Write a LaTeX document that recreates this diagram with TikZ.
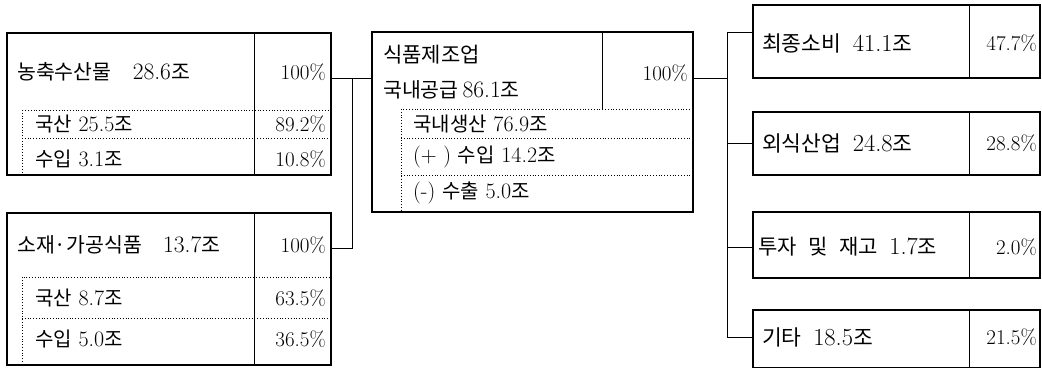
\documentclass[tikz,border=0pt]{standalone}
\usepackage{fontspec}
\newfontfamily\krfont{Noto Sans CJK KR}
\usetikzlibrary{positioning}
\newcommand{\kr}[2][20]{{\krfont\fontsize{#1}{24}\selectfont #2}}

\tikzset{
  frame/.style={draw, line width=2.2pt, inner sep=0pt, outer sep=0pt, anchor=north west},
  cellline/.style={line width=0.9pt},
  subline/.style={line width=0.8pt, dotted},
  link/.style={line width=0.9pt},
  maintext/.style={inner sep=0pt, anchor=west, font=\fontsize{23.5}{26}\selectfont},
  righttext/.style={inner sep=0pt, anchor=west, font=\fontsize{24.5}{27}\selectfont},
  subtext/.style={inner sep=0pt, anchor=west, font=\fontsize{22}{25}\selectfont},
  pct/.style={inner sep=0pt, anchor=east, font=\fontsize{21}{24}\selectfont},
}

\begin{document}
\begin{tikzpicture}[x=1pt, y=-1pt]
\useasboundingbox (0,0) rectangle (1042,367);

% 농축수산물
\draw[subline] (22,110) rectangle (330,175);
\draw[subline] (22,138) -- (330,138);
\node[frame, minimum width=324pt, minimum height=142pt] (agri) at (7,33) {};
\draw[cellline] ([xshift=247pt]agri.north west) -- ([xshift=247pt]agri.south west);
\node[maintext] (agri-t) at (17,72) {\kr[20.5]{농축수산물}~~~28.6\kr[20.5]{조}};
\node[pct] (agri-p) at (326,72) {100\%};
\node[subtext] (agri-1) at (35,124) {\kr{국산}~25.5\kr{조}};
\node[pct] (agri-1p) at (326,124) {89.2\%};
\node[subtext] (agri-2) at (35,159) {\kr{수입}~3.1\kr{조}};
\node[pct] (agri-2p) at (326,159) {10.8\%};

% 소재·가공식품
\draw[subline] (22,277) rectangle (330,365);
\draw[subline] (22,318) -- (330,318);
\node[frame, minimum width=324pt, minimum height=152pt] (mat) at (7,213) {};
\draw[cellline] ([xshift=247pt]mat.north west) -- ([xshift=247pt]mat.south west);
\node[maintext] (mat-t) at (17,245) {\kr[20.5]{소재·가공식품}~~~13.7\kr[20.5]{조}};
\node[pct] (mat-p) at (326,245) {100\%};
\node[subtext] (mat-1) at (35,298) {\kr{국산}~8.7\kr{조}};
\node[pct] (mat-1p) at (326,298) {63.5\%};
\node[subtext] (mat-2) at (35,339) {\kr{수입}~5.0\kr{조}};
\node[pct] (mat-2p) at (326,339) {36.5\%};

% 식품제조업
\draw[subline] (401,109) rectangle (693,212);
\draw[subline] (401,138) -- (693,138);
\draw[subline] (401,175) -- (693,175);
\node[frame, minimum width=321pt, minimum height=180pt] (mfg) at (372,32) {};
\draw[cellline] ([xshift=230pt]mfg.north west) -- ++(0,77);
\node[maintext] (mfg-t1) at (383,55) {\kr[21]{식품제조업}};
\node[maintext] (mfg-t2) at (383,90) {\kr[20.5]{국내공급}\,86.1\kr[20.5]{조}};
\node[pct] (mfg-p) at (688,73) {100\%};
\node[subtext] (mfg-1) at (413,124) {\kr{국내생산}~76.9\kr{조}};
\node[subtext] (mfg-2) at (413,157) {(+\ )~\kr{수입}~14.2\kr{조}};
\node[subtext] (mfg-3) at (413,193) {(-)~\kr{수출}~5.0\kr{조}};

% 수요처
\node[frame, minimum width=287pt, minimum height=73pt] (cons) at (753,5) {};
\node[frame, minimum width=287pt, minimum height=63pt] (rest) at (753,112) {};
\node[frame, minimum width=287pt, minimum height=66pt] (inv) at (753,212) {};
\node[frame, minimum width=287pt, minimum height=58pt] (etc) at (753,310) {};
\foreach \b in {cons, rest, inv, etc}
  \draw[cellline] ([xshift=216pt]\b.north west) -- ([xshift=216pt]\b.south west);
\node[righttext] (cons-t) at (762,43) {\kr[21.5]{최종소비}~\,41.1\kr[21.5]{조}};
\node[pct] (cons-p) at (1037,43) {47.7\%};
\node[righttext] (rest-t) at (762,143) {\kr[21.5]{외식산업}~\,24.8\kr[21.5]{조}};
\node[pct] (rest-p) at (1037,143) {28.8\%};
\node[righttext] (inv-t) at (758,247) {\kr[21]{투자}~\,\kr[21]{및}~\,\kr[21]{재고}~\,1.7\kr[21]{조}};
\node[pct] (inv-p) at (1037,247) {2.0\%};
\node[righttext] (etc-t) at (762,337) {\kr[21.5]{기타}~\,18.5\kr[21.5]{조}};
\node[pct] (etc-p) at (1037,337) {21.5\%};

% connectors
\coordinate (jl) at (352,78);
\coordinate (jl2) at (352,248);
\draw[link] (agri.east |- jl) -- (mfg.west |- jl);
\draw[link] (jl) -- (jl2) -- (mat.east |- jl2);
\coordinate (jr) at (727,78);
\draw[link] (mfg.east |- jr) -- (jr);
\foreach \b/\y in {cons/32, rest/143, inv/247, etc/337}{
  \coordinate (t-\b) at (727,\y);
  \draw[link] (t-\b) -- (t-\b -| \b.west);
}
\draw[link] (t-cons) -- (t-etc);

\end{tikzpicture}
\end{document}
